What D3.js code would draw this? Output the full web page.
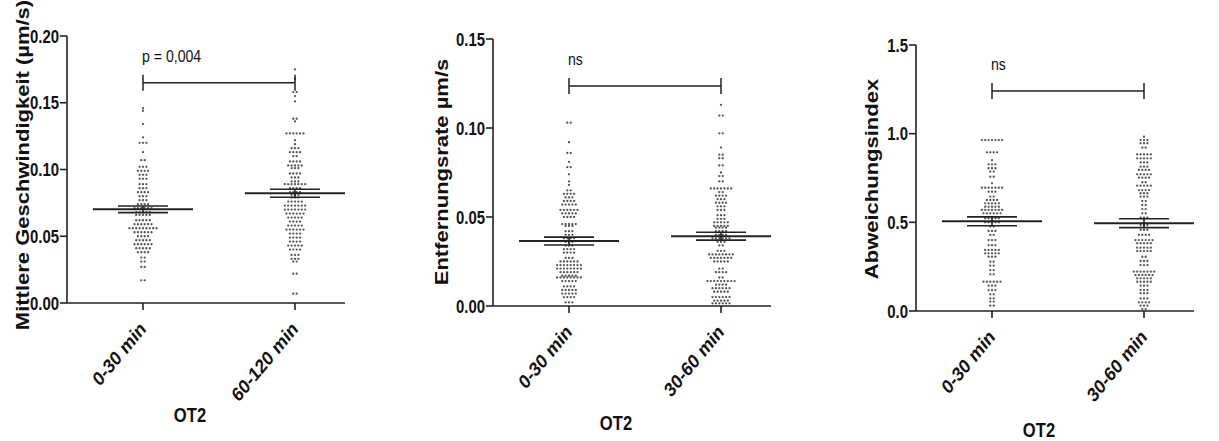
<!DOCTYPE html>
<html>
<head>
<meta charset="utf-8">
<script src="https://cdn.jsdelivr.net/npm/d3@7"></script>
<style>
  body { margin: 0; background: #fff; }
  svg { display: block; font-family: "Liberation Sans", Arial, sans-serif; }
</style>
</head>
<body>
<script>
var width = 1219;
var height = 441;

// categories
var catsSpeed = ["0-30 min", "60-120 min"];
var catsLate = ["0-30 min", "30-60 min"];

// tick labels
var ticksSpeed = ["0.00", "0.05", "0.10", "0.15", "0.20"];
var ticksDist = ["0.00", "0.05", "0.10", "0.15"];
var ticksDev = ["0.0", "0.5", "1.0", "1.5"];

// dot rows: [value, number of dots in the row]
var speed030 = [[0.146,1],[0.144,1],[0.134,1],[0.124,1],[0.120,3],[0.113,1],[0.107,2],[0.102,3],[0.099,4],[0.096,3],
  [0.093,3],[0.089,3],[0.086,3],[0.083,4],[0.080,3],[0.077,3],[0.074,4],[0.071,6],[0.068,5],[0.066,5],[0.062,5],
  [0.059,6],[0.056,9],[0.053,6],[0.050,4],[0.047,5],[0.044,6],[0.041,5],[0.038,4],[0.034,2],[0.031,2],[0.027,2],[0.017,2]];
var speed60120 = [[0.175,1],[0.168,1],[0.158,2],[0.155,1],[0.151,1],[0.138,2],[0.136,1],[0.127,6],[0.122,1],[0.119,1],
  [0.116,3],[0.113,4],[0.110,2],[0.106,4],[0.103,5],[0.101,3],[0.097,4],[0.094,3],[0.091,3],[0.089,7],[0.086,4],
  [0.083,4],[0.081,3],[0.079,3],[0.076,5],[0.073,7],[0.070,7],[0.067,6],[0.064,5],[0.061,4],[0.058,5],[0.055,6],
  [0.052,4],[0.049,4],[0.046,4],[0.043,5],[0.040,4],[0.036,3],[0.033,3],[0.031,2],[0.022,2],[0.007,2]];
var dist030 = [[0.103,2],[0.092,1],[0.086,2],[0.081,1],[0.078,2],[0.074,1],[0.070,1],[0.068,1],[0.065,2],[0.063,4],
  [0.061,3],[0.059,4],[0.057,5],[0.054,6],[0.052,5],[0.050,4],[0.046,5],[0.045,3],[0.042,3],[0.040,3],[0.038,4],
  [0.036,3],[0.034,3],[0.032,4],[0.030,4],[0.027,3],[0.025,6],[0.023,8],[0.021,8],[0.019,6],[0.017,5],[0.016,8],
  [0.014,5],[0.011,4],[0.009,5],[0.007,5],[0.005,4],[0.002,3]];
var dist3060 = [[0.113,1],[0.107,2],[0.097,2],[0.089,1],[0.085,2],[0.083,2],[0.079,2],[0.075,1],[0.073,2],[0.070,2],
  [0.066,7],[0.064,2],[0.062,4],[0.060,3],[0.058,4],[0.056,3],[0.054,3],[0.051,3],[0.049,3],[0.047,5],[0.045,5],
  [0.044,4],[0.042,4],[0.040,4],[0.038,6],[0.036,3],[0.034,2],[0.031,3],[0.029,8],[0.027,7],[0.025,5],[0.021,2],
  [0.019,4],[0.016,2],[0.014,9],[0.012,4],[0.010,6],[0.008,5],[0.005,6],[0.003,5],[0.0015,6]];
var dev030 = [[0.964,7],[0.895,4],[0.850,1],[0.827,3],[0.805,3],[0.786,2],[0.757,2],[0.720,1],[0.695,7],[0.673,3],
  [0.645,2],[0.626,4],[0.607,5],[0.588,5],[0.570,7],[0.551,6],[0.523,5],[0.500,5],[0.476,2],[0.451,3],[0.429,2],
  [0.400,3],[0.372,3],[0.344,5],[0.325,5],[0.306,3],[0.278,2],[0.256,2],[0.231,2],[0.207,2],[0.165,6],[0.143,3],
  [0.118,3],[0.094,2],[0.071,2],[0.053,2],[0.030,2]];
var dev3060 = [[0.983,1],[0.964,3],[0.946,3],[0.921,2],[0.883,5],[0.861,5],[0.838,3],[0.814,3],[0.795,4],[0.771,5],
  [0.752,4],[0.726,2],[0.707,5],[0.682,4],[0.664,3],[0.645,3],[0.620,2],[0.598,2],[0.575,2],[0.551,2],[0.526,3],
  [0.485,3],[0.457,3],[0.429,4],[0.400,6],[0.382,5],[0.357,5],[0.338,5],[0.306,2],[0.282,3],[0.259,3],[0.222,7],
  [0.203,6],[0.184,5],[0.165,5],[0.143,3],[0.118,3],[0.100,3],[0.071,3],[0.049,4],[0.030,3],[0.011,2]];

// mean and SEM per group
var speedMean = [0.0702, 0.0822];
var speedSem = [0.0025, 0.0030];
var distMean = [0.0365, 0.0392];
var distSem = [0.0022, 0.0022];
var devMean = [0.506, 0.495];
var devSem = [0.025, 0.025];

var panels = [
  { left: 67, top: 36, bottom: 303, max: 0.20, ticks: ticksSpeed, cats: catsSpeed,
    groups: [speed030, speed60120], mean: speedMean, sem: speedSem, bracket: 0.165, sig: "p = 0,004",
    title: "Mittlere Geschwindigkeit (µm/s)", titleX: 29, titleY: 165, xTitleY: 422 },
  { left: 493, top: 39, bottom: 306, max: 0.15, ticks: ticksDist, cats: catsLate,
    groups: [dist030, dist3060], mean: distMean, sem: distSem, bracket: 0.1236, sig: "ns",
    title: "Entfernungsrate µm/s", titleX: 448, titleY: 172, xTitleY: 430 },
  { left: 916, top: 45, bottom: 311, max: 1.5, ticks: ticksDev, cats: catsLate,
    groups: [dev030, dev3060], mean: devMean, sem: devSem, bracket: 1.24, sig: "ns",
    title: "Abweichungsindex", titleX: 878, titleY: 179, xTitleY: 437 }
];

var squeeze = 0.83;   // the source picture is squashed horizontally
var ink = "#222";

var svg = d3.select("body")
    .append("svg")
    .attr("width", width)
    .attr("height", height);

function label(parent, x, y, str, size, weight, anchor, rot) {
    parent.append("g")
        .attr("transform", "translate(" + x + "," + y + ") scale(" + squeeze + ",1) rotate(" + (rot || 0) + ")")
        .append("text")
        .attr("font-size", size)
        .attr("font-weight", weight)
        .attr("text-anchor", anchor)
        .attr("fill", "#111")
        .text(str);
}

panels.forEach(function (p) {
    var g = svg.append("g");

    var y = d3.scaleLinear().domain([0, p.max]).range([p.bottom, p.top]);
    var x = d3.scalePoint().domain(p.cats).range([p.left, p.left + 304]).padding(0.5);
    var right = x(p.cats[1]) + 50;

    // dots
    p.groups.forEach(function (rows, gi) {
        var cx = x(p.cats[gi]);
        rows.forEach(function (r) {
            for (var i = 0; i < r[1]; i++) {
                g.append("circle")
                    .attr("cx", cx + (i - (r[1] - 1) / 2) * 3.4)
                    .attr("cy", y(r[0]))
                    .attr("r", 1.15)
                    .attr("fill", "#555");
            }
        });
    });

    // mean and SEM
    p.cats.forEach(function (c, gi) {
        var cx = x(c);
        var m = p.mean[gi], s = p.sem[gi];
        g.append("line").attr("x1", cx - 50).attr("x2", cx + 50)
            .attr("y1", y(m)).attr("y2", y(m)).attr("stroke", ink).attr("stroke-width", 2);
        [m - s, m + s].forEach(function (v) {
            g.append("line").attr("x1", cx - 25).attr("x2", cx + 25)
                .attr("y1", y(v)).attr("y2", y(v)).attr("stroke", ink).attr("stroke-width", 1.6);
        });
        g.append("line").attr("x1", cx).attr("x2", cx)
            .attr("y1", y(m - s)).attr("y2", y(m + s)).attr("stroke", ink).attr("stroke-width", 1.6);
    });

    // y axis
    g.append("line").attr("x1", p.left).attr("x2", p.left).attr("y1", p.top).attr("y2", p.bottom)
        .attr("stroke", ink).attr("stroke-width", 1.6);
    p.ticks.forEach(function (t) {
        var ty = y(+t);
        g.append("line").attr("x1", p.left - 7).attr("x2", p.left).attr("y1", ty).attr("y2", ty)
            .attr("stroke", ink).attr("stroke-width", 1.6);
        label(g, p.left - 8, ty + 6.5, t, 18, "bold", "end");
    });

    // x axis
    g.append("line").attr("x1", p.left).attr("x2", right).attr("y1", p.bottom).attr("y2", p.bottom)
        .attr("stroke", ink).attr("stroke-width", 1.6);
    p.cats.forEach(function (c) {
        g.append("line").attr("x1", x(c)).attr("x2", x(c)).attr("y1", p.bottom).attr("y2", p.bottom + 7)
            .attr("stroke", ink).attr("stroke-width", 1.6);
        label(g, x(c) + 4, p.bottom + 27, c, 20, "bold", "end", -45);
    });

    // significance bracket
    var x0 = x(p.cats[0]), x1 = x(p.cats[1]), by = y(p.bracket);
    g.append("path")
        .attr("d", "M" + x0 + "," + (by - 8) + "V" + (by + 8) + "M" + x0 + "," + by + "H" + x1 +
            "M" + x1 + "," + (by - 8) + "V" + (by + 8))
        .attr("fill", "none").attr("stroke", ink).attr("stroke-width", 1.5);
    label(g, x0 - 1, by - 21, p.sig, 17, "normal", "start");

    // titles
    label(g, p.titleX, p.titleY, p.title, 22, "bold", "middle", -90);
    label(g, p.left + 123, p.xTitleY, "OT2", 20, "bold", "middle");
});
</script>
</body>
</html>
